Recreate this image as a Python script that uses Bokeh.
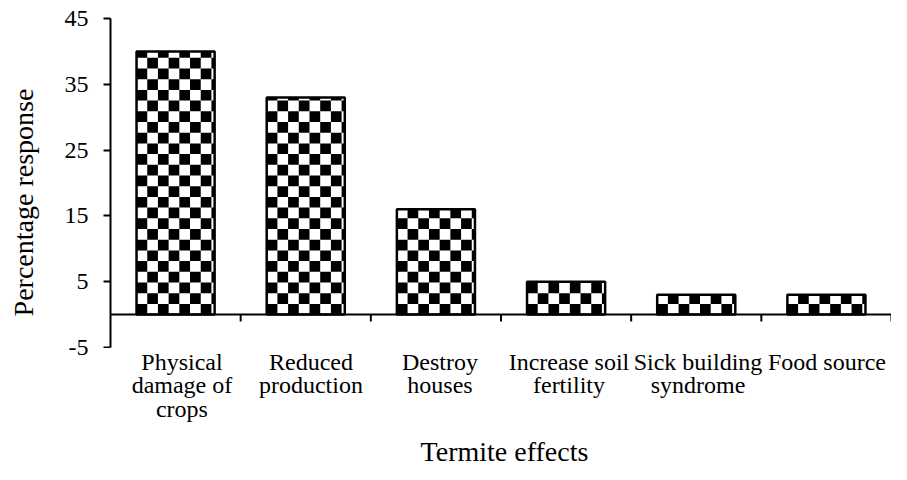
import math
from bokeh.plotting import figure
from bokeh.layouts import row, column
from bokeh.models import Range1d, FixedTicker, Span, CustomJSTickFormatter
from bokeh.core.properties import value
from bokeh.embed import file_html
from bokeh.resources import INLINE

# ---- data ----
categories = ["Physical\ndamage of\ncrops", "Reduced\nproduction", "Destroy\nhouses",
              "Increase soil\nfertility", "Sick building\nsyndrome", "Food source"]
responses = [40, 33, 16, 5, 3, 3]
y_ticks = [-5, 5, 15, 25, 35, 45]
y_tick_labels = ["-5", "5", "15", "25", "35", "45"]
x_title = "Termite effects"
y_title = "Percentage response"

FONT = "Liberation Serif"
LABEL_SIZE = "24px"
TITLE_SIZE = "28px"
W, H = 891, 464            # whole page content
LW = 103                   # left strip: y title + y tick labels
TICK = 7                   # tick length, px
FR_TOP, FR_BOT = 18, 347   # plot frame top / bottom (px from top)
PW = W - LW                # chart width
PH = FR_BOT + 1            # chart height
XH = H - PH                # bottom strip: category labels + x title
xs = list(range(len(categories)))
n = len(categories)

frame_w = PW - TICK
frame_h = FR_BOT - FR_TOP
px_x = frame_w / n
px_y = frame_h / (y_ticks[-1] - y_ticks[0])

# ---------------- main chart ----------------
p = figure(width=PW, height=PH, output_backend="svg", toolbar_location=None,
           x_range=Range1d(-0.5, n - 0.5), y_range=Range1d(y_ticks[0], y_ticks[-1]),
           x_axis_location=None,
           min_border_left=TICK, min_border_right=0, min_border_top=FR_TOP,
           min_border_bottom=PH - FR_BOT)
p.outline_line_color = None
p.grid.visible = False
p.background_fill_color = "white"
p.border_fill_color = "white"

# checkerboard fill, derived from bar values
cell_px = 10.7
cx, cy = cell_px / px_x, cell_px / px_y
bar_w = 0.6
ql, qr, qb, qt = [], [], [], []
for xc, v in zip(xs, responses):
    left = xc - bar_w / 2
    for ix in range(math.ceil(bar_w / cx)):
        for iy in range(math.ceil(v / cy)):
            if (ix + iy) % 2 == 1:
                continue
            l = left + ix * cx
            b = iy * cy
            ql.append(l); qr.append(min(l + cx, left + bar_w))
            qb.append(b); qt.append(min(b + cy, v))
p.quad(left=ql, right=qr, bottom=qb, top=qt, fill_color="black", line_color=None)

p.vbar(x=xs, top=responses, bottom=0, width=bar_w, fill_color=None,
       line_color="black", line_width=2.5)

# zero line and category boundary ticks (Excel style)
p.add_layout(Span(location=0, dimension="width", line_color="black", line_width=2))
tick_len = TICK / px_y
bounds = [i + 0.5 for i in range(n)]
p.segment(x0=bounds, x1=bounds, y0=[0] * n, y1=[-tick_len] * n,
          line_color="black", line_width=2)

ya = p.yaxis[0]
ya.ticker = FixedTicker(ticks=y_ticks)
ya.formatter = CustomJSTickFormatter(code="return '';")
ya.major_label_text_font_size = "0px"
ya.major_label_standoff = 0
ya.minor_tick_line_color = None
ya.major_tick_out = TICK
ya.major_tick_in = 0
ya.axis_line_width = 2
ya.major_tick_line_width = 2
ya.axis_line_color = "black"
ya.major_tick_line_color = "black"

# ---------------- left strip: y tick labels + y title ----------------
tf = figure(width=LW, height=H, output_backend="svg", toolbar_location=None,
            x_range=Range1d(0, LW),
            y_range=Range1d(y_ticks[0] - (H - FR_BOT) / px_y, y_ticks[-1] + FR_TOP / px_y),
            x_axis_location=None, y_axis_location=None,
            min_border_left=0, min_border_right=0, min_border_top=0, min_border_bottom=0)
tf.outline_line_color = None
tf.grid.visible = False
tf.text(x=[LW - 15] * len(y_ticks), y=y_ticks, text=y_tick_labels,
        text_align="right", text_baseline="middle",
        text_font=value(FONT), text_font_size=LABEL_SIZE, text_color="black")
y_title_pos = y_ticks[0] + 145 / px_y
tf.text(x=[23], y=[y_title_pos], text=[y_title], angle=math.pi / 2,
        text_align="center", text_baseline="middle",
        text_font=value(FONT), text_font_size=TITLE_SIZE, text_color="black")

# ---------------- bottom strip: category labels + x title ----------------
xf = figure(width=PW, height=XH, output_backend="svg", toolbar_location=None,
            x_range=Range1d(-0.5 - TICK / px_x, n - 0.5), y_range=Range1d(H, PH),
            x_axis_location=None, y_axis_location=None,
            min_border_left=0, min_border_right=0, min_border_top=0, min_border_bottom=0)
xf.outline_line_color = None
xf.grid.visible = False
lx, ly, lt = [], [], []
first_base, line_step = 361.5, 23.3
for i, cat in enumerate(categories):
    for k, line in enumerate(cat.split("\n")):
        lx.append(xs[i]); ly.append(first_base + k * line_step); lt.append(line)
xf.text(x=lx, y=ly, text=lt, text_align="center", text_baseline="alphabetic",
        text_font=value(FONT), text_font_size=LABEL_SIZE, text_color="black")
xf.text(x=[(n - 1) / 2], y=[451], text=[x_title], text_align="center",
        text_baseline="alphabetic", text_font=value(FONT), text_font_size=TITLE_SIZE,
        text_color="black")

layout = row(tf, column(p, xf, spacing=0), spacing=0)
open("out.html", "w").write(file_html(layout, INLINE))
